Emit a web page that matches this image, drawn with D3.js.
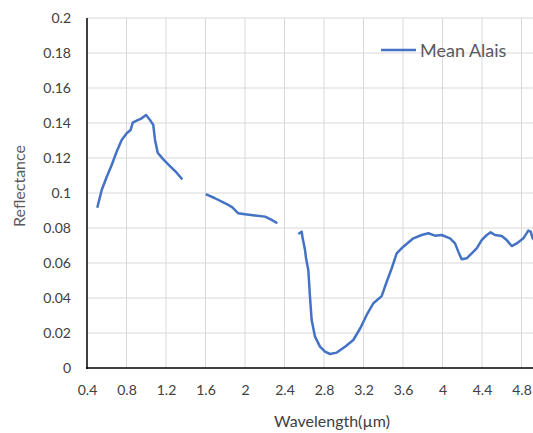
<!DOCTYPE html>
<meta charset="utf-8">
<style>
body { margin: 0; background: #fff; }
text { font-family: Lato, "Open Sans", sans-serif; }
</style>
<body>
<script src="https://cdn.jsdelivr.net/npm/d3@7"></script>
<script>
// spectrum, three pieces (gaps at the water bands)
var wave1 = [0.504, 0.549, 0.6, 0.65, 0.70, 0.751, 0.802, 0.842, 0.863, 0.903, 0.954, 0.998, 1.038, 1.071, 1.089, 1.116, 1.173, 1.24, 1.308, 1.365],
    refl1 = [0.0916, 0.1017, 0.1093, 0.116, 0.1236, 0.1303, 0.1341, 0.136, 0.1402, 0.1413, 0.1427, 0.1446, 0.1417, 0.1389, 0.1303, 0.123, 0.1192, 0.1154, 0.1116, 0.1078];
var wave2 = [1.602, 1.696, 1.815, 1.872, 1.932, 2.0, 2.101, 2.203, 2.27, 2.327],
    refl2 = [0.0994, 0.097, 0.0937, 0.0918, 0.0884, 0.0878, 0.0872, 0.0865, 0.0846, 0.0827];
var wave3 = [2.54, 2.574, 2.584, 2.608, 2.618, 2.641, 2.658, 2.675, 2.709, 2.759, 2.81, 2.861, 2.929, 3.013, 3.097, 3.17, 3.232, 3.3, 3.384, 3.435, 3.486, 3.536, 3.603, 3.705, 3.789, 3.856, 3.924, 3.992, 4.076, 4.127, 4.16, 4.194, 4.245, 4.296, 4.346, 4.397, 4.448, 4.488, 4.532, 4.6, 4.65, 4.701, 4.751, 4.819, 4.869, 4.893, 4.913, 4.95],
    refl3 = [0.0766, 0.0779, 0.0741, 0.0674, 0.0627, 0.056, 0.0407, 0.0274, 0.0179, 0.0122, 0.0093, 0.008, 0.0088, 0.0122, 0.016, 0.023, 0.0303, 0.037, 0.0411, 0.0493, 0.057, 0.0655, 0.0693, 0.0741, 0.076, 0.077, 0.0756, 0.076, 0.0741, 0.0712, 0.0665, 0.0621, 0.0627, 0.0655, 0.0684, 0.0731, 0.076, 0.0775, 0.076, 0.0754, 0.0731, 0.0697, 0.0712, 0.0741, 0.0785, 0.0779, 0.0741, 0.072];
var xTicks = [0.4, 0.8, 1.2, 1.6, 2, 2.4, 2.8, 3.2, 3.6, 4, 4.4, 4.8],
    yTicks = [0, 0.02, 0.04, 0.06, 0.08, 0.1, 0.12, 0.14, 0.16, 0.18, 0.2];

var width = 533, height = 433;
var svg = d3.select("body").append("svg")
    .attr("width", width)
    .attr("height", height);

var x = d3.scaleLinear().domain([0.4, 5.0]).range([87, 541.25]);
var y = d3.scaleLinear().domain([0, 0.2]).range([368, 18]);

// grid
svg.append("g").selectAll("line").data(yTicks.slice(1))
    .enter().append("line")
    .attr("x1", 87).attr("x2", width)
    .attr("y1", y).attr("y2", y)
    .attr("stroke", "#d9d9d9").attr("stroke-width", 1);
svg.append("g").selectAll("line").data(xTicks.slice(1))
    .enter().append("line")
    .attr("x1", x).attr("x2", x)
    .attr("y1", y(0.2)).attr("y2", y(0))
    .attr("stroke", "#d9d9d9").attr("stroke-width", 1);

// axes
var yAxis = svg.append("g")
    .attr("transform", "translate(87,0)")
    .call(d3.axisLeft(y).tickValues(yTicks).tickSize(0).tickPadding(16)
        .tickFormat(function(d) { return String(+d.toFixed(2)); }));
var xAxis = svg.append("g")
    .attr("transform", "translate(0,368)")
    .call(d3.axisBottom(x).tickValues(xTicks).tickSize(0).tickPadding(17)
        .tickFormat(function(d) { return String(+d.toFixed(1)); }));
[xAxis, yAxis].forEach(function(a) {
  a.select(".domain").remove();
  a.selectAll("text").attr("font-size", 14).attr("fill", "#404040")
      .style("font-family", "Lato, 'Open Sans', sans-serif");
});
svg.append("line").attr("x1", 87).attr("x2", 87).attr("y1", y(0.2)).attr("y2", y(0) + 1)
    .attr("stroke", "#000").attr("stroke-width", 1.5);
svg.append("line").attr("x1", 86).attr("x2", width).attr("y1", y(0)).attr("y2", y(0))
    .attr("stroke", "#000").attr("stroke-width", 1.5);

// spectrum
var line = d3.line().x(function(d) { return x(d[0]); }).y(function(d) { return y(d[1]); });
[[wave1, refl1], [wave2, refl2], [wave3, refl3]].forEach(function(s) {
  svg.append("path")
      .datum(d3.zip(s[0], s[1]))
      .attr("d", line)
      .attr("fill", "none")
      .attr("stroke", "#4472C4")
      .attr("stroke-width", 2.5)
      .attr("stroke-linejoin", "round");
});

// titles
svg.append("text").attr("x", 332).attr("y", 427)
    .attr("text-anchor", "middle").attr("font-size", 16).attr("fill", "#404040")
    .text("Wavelength(µm)");
svg.append("text").attr("transform", "translate(25,186) rotate(-90)")
    .attr("text-anchor", "middle").attr("font-size", 16).attr("fill", "#595959")
    .text("Reflectance");

// legend
svg.append("line").attr("x1", 381).attr("x2", 416).attr("y1", 50).attr("y2", 50)
    .attr("stroke", "#4472C4").attr("stroke-width", 2.5);
svg.append("text").attr("x", 420).attr("y", 57)
    .attr("font-size", 18).attr("fill", "#595959")
    .text("Mean Alais");
</script>
</body>
